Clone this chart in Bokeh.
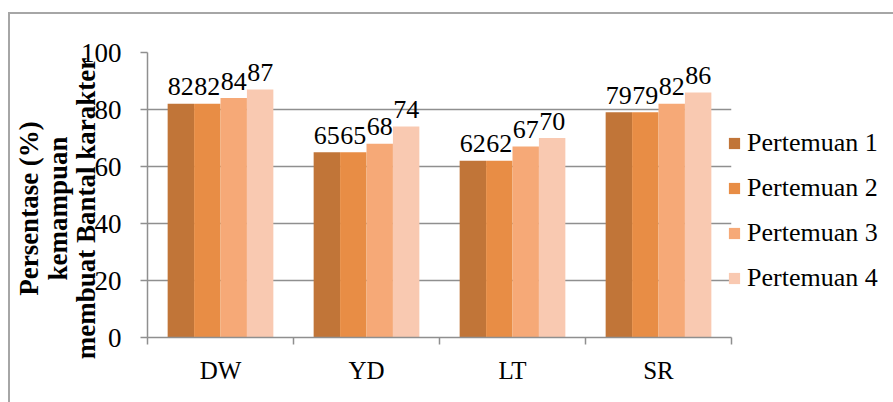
from bokeh.plotting import figure
from bokeh.models import ColumnDataSource, Range1d, FixedTicker, Legend, LegendItem
from bokeh.transform import dodge
from bokeh.core.properties import value
from bokeh.embed import file_html
from bokeh.resources import INLINE

categories = ["DW", "YD", "LT", "SR"]
series_names = ["Pertemuan 1", "Pertemuan 2", "Pertemuan 3", "Pertemuan 4"]
pertemuan_1 = [82, 65, 62, 79]
pertemuan_2 = [82, 65, 62, 79]
pertemuan_3 = [84, 68, 67, 82]
pertemuan_4 = [87, 74, 70, 86]
y_ticks = [0, 20, 40, 60, 80, 100]
y_title_lines = ["Persentase (%)", "kemampuan", "membuat Bantal karakter"]

colors = ["#C17538", "#E88D45", "#F6A977", "#F9C9B1"]
FONT = "Liberation Serif"
GRAY = "#8f8f8f"

series = [pertemuan_1, pertemuan_2, pertemuan_3, pertemuan_4]
centers = [i + 0.5 for i in range(len(categories))]
data = {"x": centers}
for k, s in enumerate(series):
    data[f"s{k}"] = s
    data[f"t{k}"] = [str(v) for v in s]
source = ColumnDataSource(data)

p = figure(frame_width=584, frame_height=285, x_range=Range1d(0, len(categories)),
           y_range=Range1d(0, 100), output_backend="svg", toolbar_location=None,
           min_border_left=147, min_border_right=0, min_border_top=52, min_border_bottom=65)
p.outline_line_color = None
p.background_fill_color = "white"
p.border_fill_color = None
# outer chart border (drawn as CSS background of the plot element)
p.styles = {
    "background": ("linear-gradient(#a6a6a6,#a6a6a6) 8px 12px / 2px 420px no-repeat, "
                   "linear-gradient(#a6a6a6,#a6a6a6) 8px 12px / 920px 2px no-repeat, white")
}

bar_w = 0.181
offsets = [-1.5 * bar_w, -0.5 * bar_w, 0.5 * bar_w, 1.5 * bar_w]
items = []
for k in range(4):
    r = p.vbar(x=dodge("x", offsets[k], range=p.x_range), top=f"s{k}", width=bar_w, bottom=0,
               source=source, fill_color=colors[k], line_color=None)
    items.append(LegendItem(label=series_names[k], renderers=[r]))
    p.text(x=dodge("x", offsets[k], range=p.x_range), y=f"s{k}", text=f"t{k}", source=source,
           text_font=value(FONT), text_font_size="26px", text_color="black",
           text_align="center", text_baseline="alphabetic", y_offset=-17)

# axes
p.xgrid.visible = False
p.ygrid.grid_line_color = GRAY
p.ygrid.grid_line_width = 1.5
p.yaxis.ticker = FixedTicker(ticks=y_ticks)
p.yaxis.axis_line_color = GRAY
p.yaxis.axis_line_width = 1.5
p.yaxis.major_tick_line_color = GRAY
p.yaxis.major_tick_line_width = 1.5
p.yaxis.major_tick_out = 7
p.yaxis.major_tick_in = 0
p.yaxis.minor_tick_line_color = None
p.yaxis.major_label_standoff = 19
p.yaxis.major_label_text_font = FONT
p.yaxis.major_label_text_font_size = "27px"
p.yaxis.major_label_text_color = "black"

nb = "\u00a0" * 4
p.yaxis.axis_label = "\n".join(line + nb for line in y_title_lines)
p.yaxis.axis_label_text_font = FONT
p.yaxis.axis_label_text_font_size = "27px"
p.yaxis.axis_label_text_font_style = "bold"
p.yaxis.axis_label_text_color = "black"
p.yaxis.axis_label_text_line_height = 0.95
p.yaxis.axis_label_standoff = -23

p.xaxis.ticker = FixedTicker(ticks=centers, minor_ticks=list(range(len(categories) + 1)))
p.xaxis.major_label_overrides = {c: name for c, name in zip(centers, categories)}
p.xaxis.axis_line_color = GRAY
p.xaxis.axis_line_width = 1.5
p.xaxis.major_tick_line_color = None
p.xaxis.minor_tick_line_color = GRAY
p.xaxis.minor_tick_line_width = 1.5
p.xaxis.minor_tick_out = 7
p.xaxis.minor_tick_in = 0
p.xaxis.major_label_standoff = 12
p.xaxis.major_label_text_font = FONT
p.xaxis.major_label_text_font_size = "25px"
p.xaxis.major_label_text_color = "black"

legend = Legend(items=items, location="top_left", padding=0, margin=-4, spacing=15,
                glyph_width=14, glyph_height=14, label_height=25, label_standoff=6,
                label_text_font=FONT, label_text_font_size="26px", label_text_color="black",
                title="\u00a0", title_text_font_size="25px", title_standoff=51,
                border_line_color=None, background_fill_alpha=0)
p.add_layout(legend, "right")

open("out.html", "w").write(file_html(p, INLINE))
